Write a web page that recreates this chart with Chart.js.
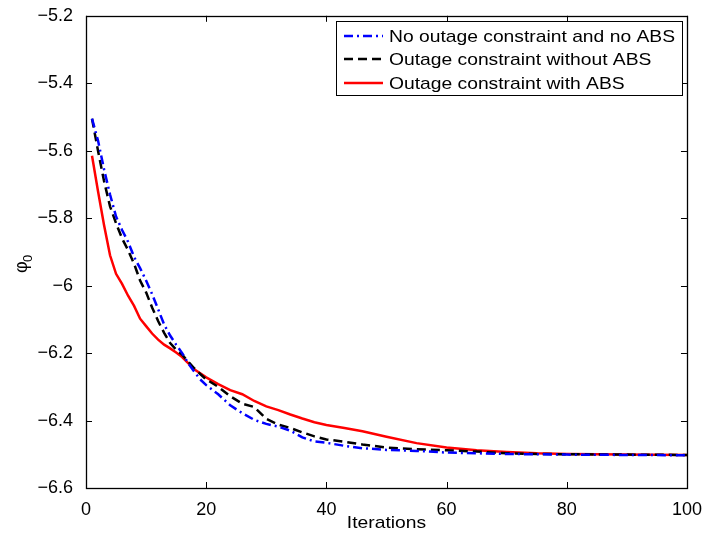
<!DOCTYPE html>
<html>
<head>
<meta charset="utf-8">
<script src="https://cdn.jsdelivr.net/npm/chart.js@4.4.1/dist/chart.umd.min.js"></script>
<style>
    html, body { margin: 0; padding: 0; background: #fff; }
    #phiChart { display: block; }
</style>
</head>
<body>
<canvas id="phiChart" width="705" height="536"></canvas>
<script>
const iterations = [1, 2, 3, 4, 5, 6, 7, 8, 9, 10, 11, 12, 13, 14, 15, 16, 17, 18, 19, 20,
    22, 24, 26, 28, 30, 32, 34, 36, 38, 40, 43, 46, 50, 55, 60, 65, 70, 75, 80, 90, 100];

const noOutageNoAbs = [-5.505, -5.57, -5.655, -5.73, -5.795, -5.835, -5.87, -5.915, -5.948, -5.985,
    -6.025, -6.07, -6.115, -6.148, -6.175, -6.2, -6.23, -6.255, -6.278, -6.295,
    -6.322, -6.355, -6.378, -6.398, -6.41, -6.418, -6.43, -6.45, -6.462, -6.466,
    -6.475, -6.482, -6.487, -6.49, -6.495, -6.497, -6.499, -6.5, -6.501, -6.502, -6.503];

const outageWithoutAbs = [-5.505, -5.6, -5.69, -5.765, -5.815, -5.86, -5.895, -5.935, -5.985, -6.02,
    -6.065, -6.105, -6.14, -6.17, -6.19, -6.205, -6.225, -6.245, -6.262, -6.278,
    -6.3, -6.328, -6.35, -6.36, -6.395, -6.412, -6.422, -6.435, -6.447, -6.456,
    -6.463, -6.471, -6.48, -6.485, -6.488, -6.492, -6.497, -6.499, -6.5, -6.501, -6.502];

const outageWithAbs = [-5.615, -5.72, -5.82, -5.91, -5.965, -5.995, -6.03, -6.06, -6.098, -6.12,
    -6.142, -6.16, -6.175, -6.186, -6.198, -6.212, -6.23, -6.248, -6.26, -6.272,
    -6.292, -6.31, -6.322, -6.342, -6.358, -6.369, -6.382, -6.394, -6.405, -6.413,
    -6.422, -6.432, -6.448, -6.467, -6.48, -6.488, -6.493, -6.497, -6.499, -6.501, -6.502];

const seriesLabels = ['No outage constraint and no ABS', 'Outage constraint without ABS', 'Outage constraint with ABS'];

const FONT = '"Liberation Sans", Arial, Helvetica, sans-serif';

function toPoints(values) {
    return iterations.map(function (it, i) { return { x: it, y: values[i] }; });
}

function matlabLabel(v) {
    return String(Number(v.toFixed(1))).replace('-', '\u2212');
}

// text slightly widened, like the exported figure
function wideText(ctx, text, x, y, stretch) {
    ctx.save();
    ctx.translate(x, y);
    ctx.scale(stretch, 1);
    ctx.fillText(text, 0, 0);
    ctx.restore();
}

// box, inside ticks, legend and axis titles drawn the MATLAB way
const matlabAxes = {
    id: 'matlabAxes',
    afterDraw(chart) {
        const ctx = chart.ctx;
        const a = chart.chartArea;
        const xs = chart.scales.x;
        const ys = chart.scales.y;
        const tl = 6;

        ctx.save();
        ctx.strokeStyle = '#000';
        ctx.lineWidth = 1;
        ctx.setLineDash([]);
        ctx.beginPath();
        xs.ticks.forEach(function (t) {
            const px = Math.round(xs.getPixelForValue(t.value)) + 0.5;
            ctx.moveTo(px, a.bottom); ctx.lineTo(px, a.bottom - tl);
            ctx.moveTo(px, a.top); ctx.lineTo(px, a.top + tl);
        });
        ys.ticks.forEach(function (t) {
            const py = Math.round(ys.getPixelForValue(t.value)) + 0.5;
            ctx.moveTo(a.left, py); ctx.lineTo(a.left + tl, py);
            ctx.moveTo(a.right, py); ctx.lineTo(a.right - tl, py);
        });
        ctx.stroke();
        ctx.lineWidth = 1.3;
        ctx.strokeRect(Math.round(a.left) + 0.5, Math.round(a.top) + 0.5,
            Math.round(a.right - a.left), Math.round(a.bottom - a.top));

        // legend
        const lx = 336, ly = 21, lw = 346, lh = 74;
        ctx.fillStyle = '#fff';
        ctx.fillRect(lx, ly, lw, lh);
        ctx.lineWidth = 1;
        ctx.strokeRect(lx + 0.5, ly + 0.5, lw, lh);
        const rows = [36, 59, 83];
        ctx.font = '17px ' + FONT;
        const stretch = 286 / ctx.measureText(seriesLabels[0]).width;
        chart.data.datasets.forEach(function (ds, i) {
            ctx.strokeStyle = ds.borderColor;
            ctx.lineWidth = ds.borderWidth;
            ctx.setLineDash(ds.borderDash || []);
            ctx.beginPath();
            ctx.moveTo(344, rows[i]);
            ctx.lineTo(383, rows[i]);
            ctx.stroke();
            ctx.setLineDash([]);
            ctx.fillStyle = '#000';
            ctx.textBaseline = 'middle';
            ctx.textAlign = 'left';
            wideText(ctx, ds.label, 389, rows[i] + 1, stretch);
        });

        // axis titles
        ctx.fillStyle = '#000';
        ctx.font = '17px ' + FONT;
        ctx.textAlign = 'center';
        ctx.textBaseline = 'middle';
        wideText(ctx, 'Iterations', (a.left + a.right) / 2, 523, stretch);

        ctx.translate(22, 262);
        ctx.rotate(-Math.PI / 2);
        ctx.textAlign = 'left';
        ctx.textBaseline = 'alphabetic';
        ctx.font = '18px ' + FONT;
        ctx.fillText('\u03c6', -11, 5);
        ctx.font = '13px ' + FONT;
        ctx.fillText('0', 0, 10);
        ctx.restore();
    }
};

const phiCtx = document.getElementById('phiChart');
new Chart(phiCtx, {
    type: 'line',
    data: {
        datasets: [{
            label: seriesLabels[0],
            data: toPoints(noOutageNoAbs),
            borderColor: '#0000ff',
            borderWidth: 2.5,
            borderDash: [9, 4, 2, 4],
            pointRadius: 0,
            tension: 0
        }, {
            label: seriesLabels[1],
            data: toPoints(outageWithoutAbs),
            borderColor: '#000000',
            borderWidth: 2.5,
            borderDash: [9, 5],
            pointRadius: 0,
            tension: 0
        }, {
            label: seriesLabels[2],
            data: toPoints(outageWithAbs),
            borderColor: '#ff0000',
            borderWidth: 2.5,
            pointRadius: 0,
            tension: 0
        }]
    },
    options: {
        responsive: false,
        animation: false,
        layout: {
            padding: { top: 15, right: 17, left: 0, bottom: 0 }
        },
        plugins: {
            legend: { display: false },
            tooltip: { enabled: false }
        },
        scales: {
            x: {
                type: 'linear',
                min: 0,
                max: 100,
                grid: { display: false },
                border: { display: false },
                afterFit: function (s) { s.height = 48; },
                ticks: {
                    stepSize: 20,
                    padding: 3,
                    color: '#000',
                    maxRotation: 0,
                    font: { family: FONT, size: 18 }
                }
            },
            y: {
                min: -6.6,
                max: -5.2,
                grid: { display: false },
                border: { display: false },
                afterFit: function (s) { s.width = 86; },
                ticks: {
                    stepSize: 0.2,
                    padding: 5,
                    color: '#000',
                    font: { family: FONT, size: 18 },
                    callback: function (v) { return matlabLabel(v); }
                }
            }
        }
    },
    plugins: [matlabAxes]
});
</script>
</body>
</html>
